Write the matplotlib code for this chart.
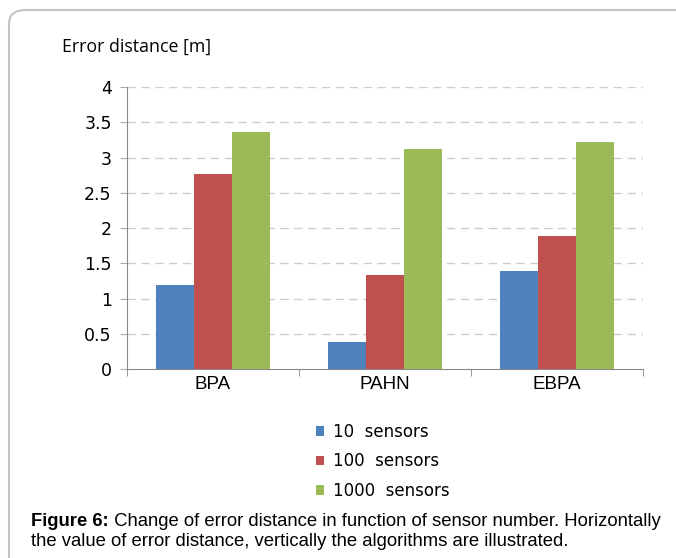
import matplotlib
matplotlib.use("Agg")
import matplotlib.pyplot as plt
import numpy as np
from matplotlib.patches import FancyBboxPatch

# data
algorithms = ["BPA", "PAHN", "EBPA"]
series_names = ["10  sensors", "100  sensors", "1000  sensors"]
sensors_10 = [1.19, 0.39, 1.39]
sensors_100 = [2.77, 1.34, 1.88]
sensors_1000 = [3.36, 3.12, 3.22]
yticks = [0, 0.5, 1, 1.5, 2, 2.5, 3, 3.5, 4]
colors = ["#4F81BD", "#C0504D", "#9BBB59"]

W, H = 676, 558
fig = plt.figure(figsize=(W / 100, H / 100), dpi=100)
fig.patch.set_facecolor("white")

# rounded frame around the figure (runs off the right and bottom edges)
frame = FancyBboxPatch((9 / W, -0.1), 1.1, (H - 10) / H + 0.1,
                       boxstyle="round,pad=0,rounding_size=0.025",
                       transform=fig.transFigure, facecolor="none",
                       edgecolor="#C4C4C4", linewidth=1.5)
fig.patches.append(frame)

ax = fig.add_axes([127 / W, (H - 369) / H, (643 - 127) / W, (369 - 87) / H])

x = np.arange(len(algorithms))
width = 0.22
for i, (vals, name) in enumerate(zip([sensors_10, sensors_100, sensors_1000], series_names)):
    ax.bar(x + (i - 1) * width, vals, width, color=colors[i], label=name, zorder=3)

ax.set_xlim(-0.5, 2.5)
ax.set_ylim(0, 4)
ax.set_yticks(yticks)
ax.set_yticklabels([f"{t:g}" for t in yticks], fontsize=12.5, family="DejaVu Sans")
ax.set_xticks(x)
ax.set_xticklabels(algorithms, fontsize=13.5, family="Liberation Sans")
ax.tick_params(axis="x", length=0, pad=5)
ax.set_xticks([-0.5, 0.5, 1.5, 2.5], minor=True)
ax.tick_params(axis="x", which="minor", length=5, color="#888888", direction="out")
ax.tick_params(axis="y", length=5, color="#AAAAAA", pad=6)
for t in yticks[1:]:
    ax.axhline(t, color="#CCCCCC", linestyle=(0, (6, 4)), linewidth=1.0, zorder=1)
for s in ["top", "right"]:
    ax.spines[s].set_visible(False)
for s in ["left", "bottom"]:
    ax.spines[s].set_color("#888888")

fig.text(62 / W, 1 - 47 / H, "Error distance [m]", fontsize=12.8, family="Open Sans",
         va="center", ha="left")

fig.legend(loc="upper left", bbox_to_anchor=(316 / W, 1 - 423 / H), frameon=False,
           prop={"family": "DejaVu Sans", "size": 12}, handlelength=0.5,
           handleheight=0.5, handletextpad=0.5, labelspacing=0.68,
           borderpad=0, borderaxespad=0)

t1 = fig.text(31 / W, 1 - 521 / H, "Figure 6:", fontsize=13.35, weight="bold",
              family="Liberation Sans", va="center", ha="left")
ax.annotate(" Change of error distance in function of sensor number. Horizontally",
            xy=(1, 0.5), xycoords=t1, va="center", ha="left", fontsize=13.35,
            family="Liberation Sans", annotation_clip=False)
fig.text(31 / W, 1 - 542 / H,
         "the value of error distance, vertically the algorithms are illustrated.",
         fontsize=13.35, family="Liberation Sans", va="center", ha="left")

fig.savefig("out.png", dpi=100)
